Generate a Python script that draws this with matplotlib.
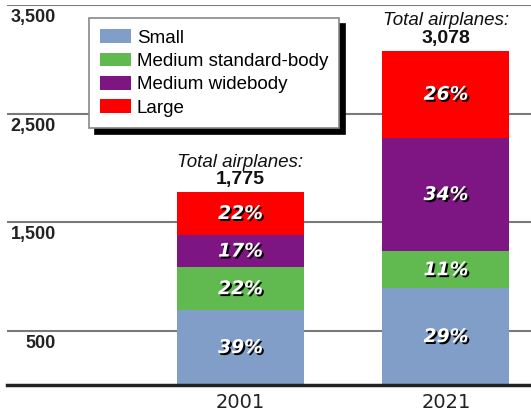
import matplotlib
matplotlib.use("Agg")
import matplotlib.pyplot as plt
import matplotlib.patheffects as pe
from matplotlib.patches import Patch

# fleet composition by size class
years = ["2001", "2021"]
totals = [1775, 3078]
classes = ["Small", "Medium standard-body", "Medium widebody", "Large"]
shares = {
    "Small": [39, 29],
    "Medium standard-body": [22, 11],
    "Medium widebody": [17, 34],
    "Large": [22, 26],
}
colors = ["#809ec8", "#60ba50", "#7d1682", "#fe0000"]
yticks = [500, 1500, 2500, 3500]
ytick_labels = ["500", "1,500", "2,500", "3,500"]

W, H = 531, 413
fig = plt.figure(figsize=(W / 100, H / 100), dpi=100)
ax = fig.add_axes([7 / W, 1 - 385 / H, 1 - 7 / W, 380 / H])
ax.set_xlim(-1.136, 1.414)
ax.set_ylim(0, 3500)
for s in ax.spines.values():
    s.set_visible(False)
ax.set_yticks([])

xs = [0, 1]
width = 0.618
bottoms = [0.0, 0.0]
shadow = [pe.SimplePatchShadow(offset=(1.4, -1.4), shadow_rgbFace="black", alpha=1.0),
          pe.Normal()]
for name, c in zip(classes, colors):
    vals = [t * p / 100 for t, p in zip(totals, shares[name])]
    ax.bar(xs, vals, width, bottom=bottoms, color=c, linewidth=0, zorder=3)
    for x, v, b, p in zip(xs, vals, bottoms, shares[name]):
        ax.text(x, b + v / 2, f"{p}%", ha="center", va="center", color="white",
                fontsize=13.5, fontweight="bold", fontstyle="italic",
                family="DejaVu Sans", path_effects=shadow, zorder=5)
    bottoms = [b + v for b, v in zip(bottoms, vals)]

# totals over each bar
for x, t in zip(xs, totals):
    ax.annotate(f"{t:,}", xy=(x, t), xytext=(0, 3), textcoords="offset points",
                ha="center", va="bottom", fontsize=14, fontweight="bold",
                family="Liberation Sans", color="#111")
    ax.annotate("Total airplanes:", xy=(x, t), xytext=(0, 15.5), textcoords="offset points",
                ha="center", va="bottom", fontsize=13.5, fontstyle="italic",
                family="Liberation Sans", color="#111")

# grid lines with labels sitting just under them
for v, lab in zip(yticks, ytick_labels):
    ax.axhline(v, color="#7a7a7a", lw=1.5, zorder=1)
    ax.annotate(lab, xy=(0.0935, v), xycoords=("axes fraction", "data"),
                xytext=(0, -3), textcoords="offset points", ha="right", va="top",
                fontsize=13, fontweight="bold", family="Liberation Sans", color="#222")
ax.axhline(0, color="#222", lw=2.5, zorder=4, clip_on=False)

ax.set_xticks(xs)
ax.set_xticklabels(years, fontsize=14, family="DejaVu Sans", color="#222")
ax.tick_params(axis="x", length=0, pad=6)

handles = [Patch(facecolor=c, edgecolor="none") for c in colors]
leg = fig.legend(handles, classes, loc="upper left", bbox_to_anchor=(89 / W, 1 - 18 / H),
                 borderaxespad=0, frameon=True, fancybox=False,
                 prop={"family": "Liberation Sans", "size": 13.5},
                 handlelength=1.65, handleheight=0.75, handletextpad=0.3, labelspacing=0.32,
                 borderpad=0.6, shadow={"color": "black", "alpha": 1, "ox": 4, "oy": -4})
leg.get_frame().set_edgecolor("#888888")
leg.get_frame().set_linewidth(1.2)
leg.set_zorder(10)

fig.savefig("out.png", dpi=100)
